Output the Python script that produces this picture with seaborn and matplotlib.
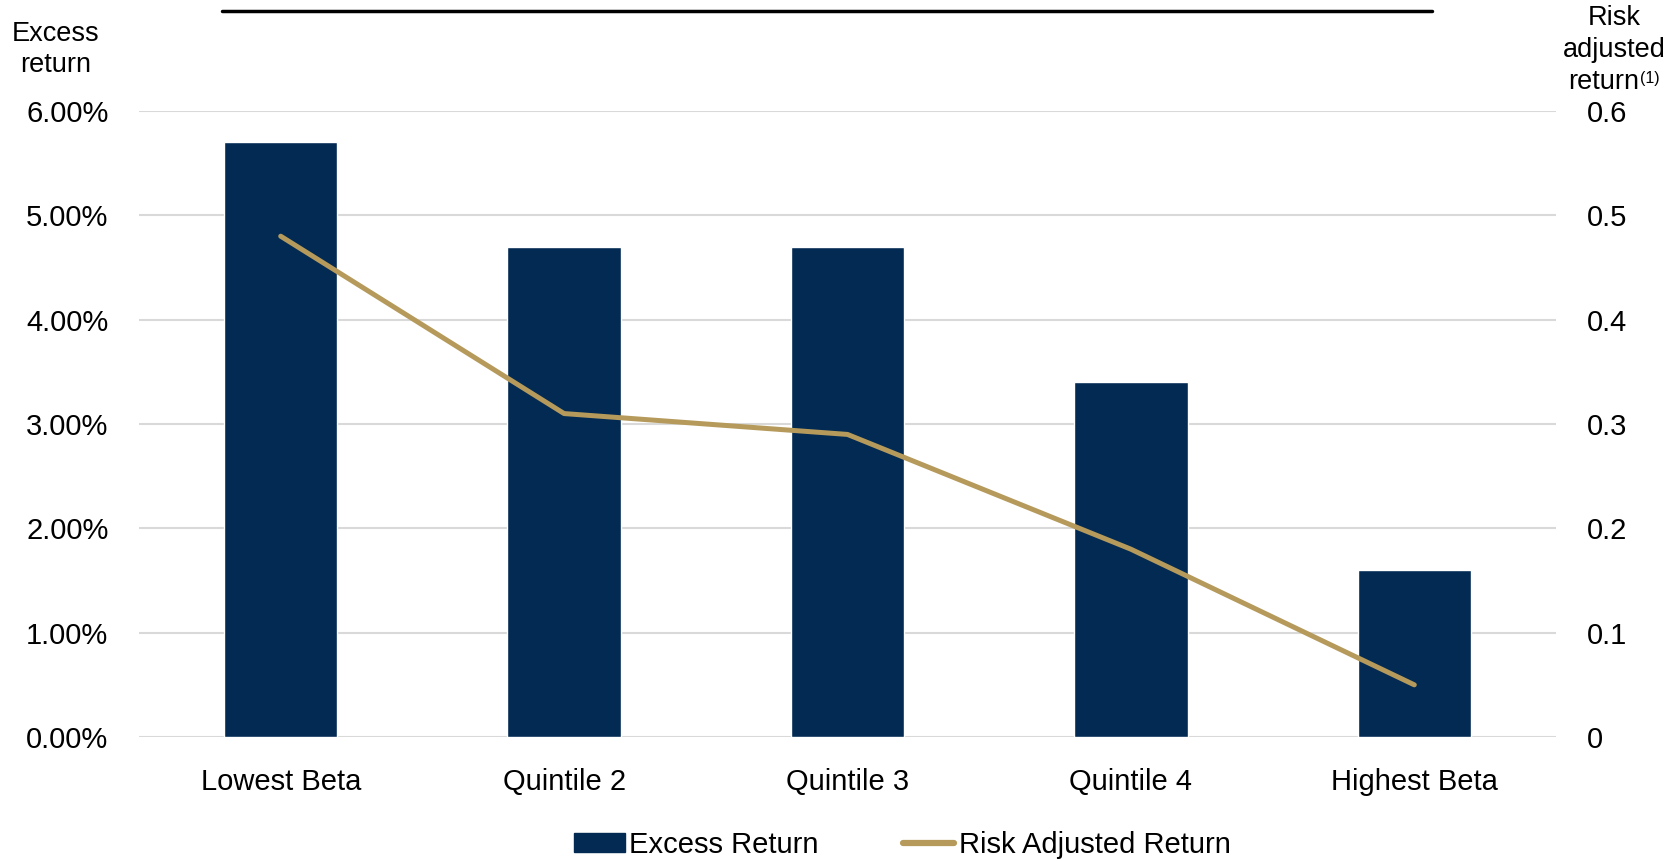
import matplotlib
matplotlib.use("Agg")
import matplotlib.pyplot as plt
import seaborn as sns
import pandas as pd
from matplotlib.lines import Line2D
from matplotlib.patches import Patch
from matplotlib.ticker import FuncFormatter

# du lieu doc tu hinh
categories = ["Lowest Beta", "Quintile 2", "Quintile 3", "Quintile 4", "Highest Beta"]
excess_return = [5.7, 4.7, 4.7, 3.4, 1.6]          # %
risk_adjusted = [0.48, 0.31, 0.29, 0.18, 0.05]
left_ticks = [0, 1, 2, 3, 4, 5, 6]
right_ticks = [0, 0.1, 0.2, 0.3, 0.4, 0.5, 0.6]

navy = "#022A53"
gold = "#B59A5B"
grid_c = "#D9D9D9"
FS = 21
LFS = 19.5

sns.set_theme(style="white")
plt.rcParams["font.family"] = ["Liberation Sans", "DejaVu Sans"]
plt.rcParams["text.color"] = "black"
plt.rcParams["xtick.color"] = "black"
plt.rcParams["ytick.color"] = "black"

df = pd.DataFrame({"cat": categories, "excess": excess_return, "risk": risk_adjusted})

W, H = 1680, 861
fig = plt.figure(figsize=(16.8, 8.61), dpi=100)
ax = fig.add_axes([139 / W, 1 - 737 / H, (1556 - 139) / W, (737 - 111) / H])

sns.barplot(data=df, x="cat", y="excess", color=navy, width=0.4, saturation=1, ax=ax, zorder=2)
ax.set_ylim(0, 6)
ax.set_xlim(-0.5, 4.5)
ax.set_yticks(left_ticks)
ax.yaxis.set_major_formatter(FuncFormatter(lambda v, p: f"{v:.2f}%"))
ax.grid(axis="y", color=grid_c, lw=1.5, zorder=0)
ax.set_axisbelow(True)
ax.set_xlabel("")
ax.set_ylabel("")
for s in ax.spines.values():
    s.set_visible(False)
ax.tick_params(axis="y", length=0, pad=22, labelsize=FS, labelcolor="black")
ax.tick_params(axis="x", length=0, pad=22, labelsize=FS, labelcolor="black")

ax2 = ax.twinx()
sns.lineplot(x=list(range(len(categories))), y=risk_adjusted, color=gold, lw=3.6, ax=ax2, zorder=3)
ax2.set_ylim(0, 0.6)
ax2.set_yticks(right_ticks)
ax2.set_yticklabels(["0" if t == 0 else f"{t:.1f}" for t in right_ticks])
ax2.tick_params(axis="y", length=0, pad=22, labelsize=FS, labelcolor="black")
for s in ax2.spines.values():
    s.set_visible(False)
ax2.grid(False)

# nhan truc
fig.text(56 / W, 1 - 34 / H, "Excess", ha="center", va="center", fontsize=LFS)
fig.text(56 / W, 1 - 65 / H, "return", ha="center", va="center", fontsize=LFS)
fig.text(1614 / W, 1 - 18 / H, "Risk", ha="center", va="center", fontsize=LFS)
fig.text(1614 / W, 1 - 50 / H, "adjusted", ha="center", va="center", fontsize=LFS)
fig.text(1604 / W, 1 - 82 / H, "return", ha="center", va="center", fontsize=LFS)
fig.text(1640 / W, 1 - 78 / H, "(1)", ha="left", va="center", fontsize=11.5)

# duong ke tren cung
fig.add_artist(Line2D([222 / W, 1432 / W], [1 - 11 / H, 1 - 11 / H], color="black", lw=2.5))

handles = [Patch(color=navy, label="Excess Return"),
           Line2D([0], [0], color=gold, lw=4.5, label="Risk Adjusted Return")]
fig.legend(handles=handles, loc="center", bbox_to_anchor=(902 / W, 1 - 845 / H), ncol=2,
           frameon=False, fontsize=FS, handlelength=1.75, handleheight=0.6,
           handletextpad=0.15, columnspacing=2.9)

fig.savefig("out.png", dpi=100)
